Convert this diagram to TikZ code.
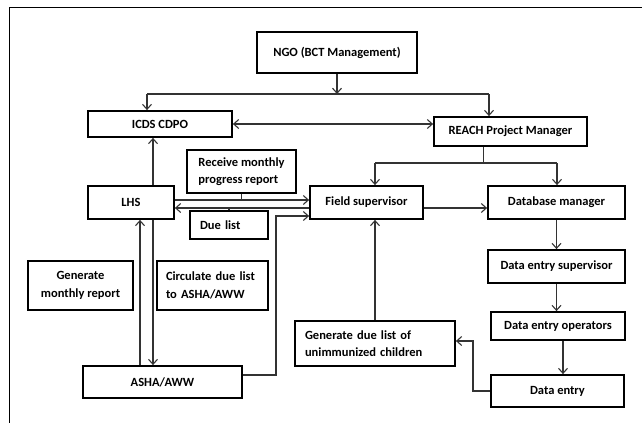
\documentclass[tikz,border=0pt]{standalone}
\usepackage{fontspec}
\setmainfont{Carlito}
\usetikzlibrary{arrows.meta}

\begin{document}
\begin{tikzpicture}[x=1pt, y=-1pt, every node/.style={font=\fontsize{12.5}{17.5}\selectfont\bfseries}]
  % -----------------------------
  % STYLES
  % -----------------------------
  \tikzset{
    box/.style={draw, line width=1.8pt, inner sep=0pt, align=center},
    lbox/.style={box, align=left, text width=#1},
    conn/.style={line width=1.1pt, draw=black!80},
    arr/.style={conn, -{Straight Barb[length=5pt, width=9pt]}},
    darr/.style={conn, {Straight Barb[length=5pt, width=9pt]}-{Straight Barb[length=5pt, width=9pt]}},
  }

  \useasboundingbox (0,0) rectangle (642,423);

  % outer frame (top and left only)
  \draw[line width=1pt] (642,7) -- (9,7) -- (9,423);

  % -----------------------------
  % BOXES
  % -----------------------------
  \node[box, minimum width=160pt, minimum height=41pt] (ngo) at (337,52.5) {NGO (BCT Management)};
  \node[box, minimum width=144pt, minimum height=26pt] (icds) at (160,124) {ICDS CDPO};
  \node[box, minimum width=153pt, minimum height=29pt] (reach) at (510.5,131.5) {REACH Project Manager};

  \node[box, align=left, minimum width=109pt, minimum height=43pt] (receive) at (241.5,171.5) {Receive monthly\\progress report};
  \node[box, minimum width=86pt, minimum height=33pt] (lhs) at (131,202.5) {LHS};
  \node[box, minimum width=113pt, minimum height=33pt] (field) at (366.5,202.5) {Field supervisor};
  \node[box, minimum width=137pt, minimum height=33pt] (dbm) at (556.5,202.5) {Database manager};
  \node[lbox=58pt, minimum width=78pt, minimum height=28pt] (due) at (229,225) {Due list};

  \node[box, minimum width=105pt, minimum height=49pt] (genmon) at (80.5,285.5) {Generate\\monthly report};
  \node[lbox=93pt, minimum width=111pt, minimum height=49pt] (circ) at (212.5,285.5) {Circulate due list\\to ASHA/AWW};
  \node[box, minimum width=137pt, minimum height=33pt] (des) at (556.5,266.5) {Data entry supervisor};
  \node[box, minimum width=134pt, minimum height=28pt] (deo) at (558,326) {Data entry operators};
  \node[lbox=140pt, minimum width=160pt, minimum height=45pt] (gendue) at (375,343.5) {Generate due list of\\unimmunized children};
  \node[box, minimum width=159pt, minimum height=32pt] (asha) at (162.5,382) {ASHA/AWW};
  \node[box, minimum width=133pt, minimum height=32pt] (dataentry) at (557.5,391) {Data entry};

  % -----------------------------
  % CONNECTORS
  % -----------------------------
  % NGO split
  \coordinate (busL) at (147,94);
  \coordinate (busR) at (489,94);
  \draw[arr] (ngo.south) -- (ngo.south |- busL);
  \draw[conn] (busL) -- (busR);
  \draw[arr] (busL) -- (busL |- icds.north);
  \draw[arr] (busR) -- (busR |- reach.north);

  \draw[darr] (icds.east) -- (icds.east -| reach.west);

  % LHS links
  \draw[arr] ([xshift=22pt]lhs.north) -- ([xshift=22pt]lhs.north |- icds.south);
  \draw[arr] ([yshift=2.5pt]lhs.east) -- ([yshift=2.5pt]lhs.east -| field.west);
  \draw[arr] ([yshift=-5.5pt]lhs.east -| field.west) -- ([yshift=-5.5pt]lhs.east);
  \draw[conn] (receive.south) -- ([yshift=2.5pt]lhs.east -| receive.south);
  \draw[conn] (due.north) -- ([yshift=-5.5pt]lhs.east -| due.north);
  \draw[arr] ([xshift=22pt]lhs.south) -- ([xshift=22pt]lhs.south |- asha.north);
  \draw[arr] ([xshift=-22.5pt]asha.north) -- ([xshift=-22.5pt]asha.north |- lhs.south);

  % ASHA up to field supervisor
  \coordinate (ashaup) at (276,216);
  \draw[arr] ([yshift=7pt]asha.east) -| (ashaup) -- (ashaup -| field.west);

  % REACH split
  \coordinate (bus2L) at (375,163);
  \coordinate (bus2R) at (557,163);
  \draw[conn] ([xshift=-27pt]reach.south) -- ([xshift=-27pt]reach.south |- bus2L);
  \draw[conn] (bus2L) -- (bus2R);
  \draw[arr] (bus2L) -- (bus2L |- field.north);
  \draw[arr] (bus2R) -- (bus2R |- dbm.north);

  % data chain
  \draw[arr] ([yshift=-5.5pt]field.east) -- ([yshift=-5.5pt]field.east -| dbm.west);
  \draw[arr] (dbm.south) -- (des.north);
  \draw[arr] (des.south) -- (des.south |- deo.north);
  \draw[arr] ([xshift=5pt]deo.south) -- ([xshift=5pt]deo.south |- dataentry.north);

  \coordinate (dejog) at (473,341);
  \draw[arr] (dataentry.west) -| (dejog) -- (dejog -| gendue.east);
  \draw[arr] (gendue.north) -- (gendue.north |- field.south);
\end{tikzpicture}
\end{document}
